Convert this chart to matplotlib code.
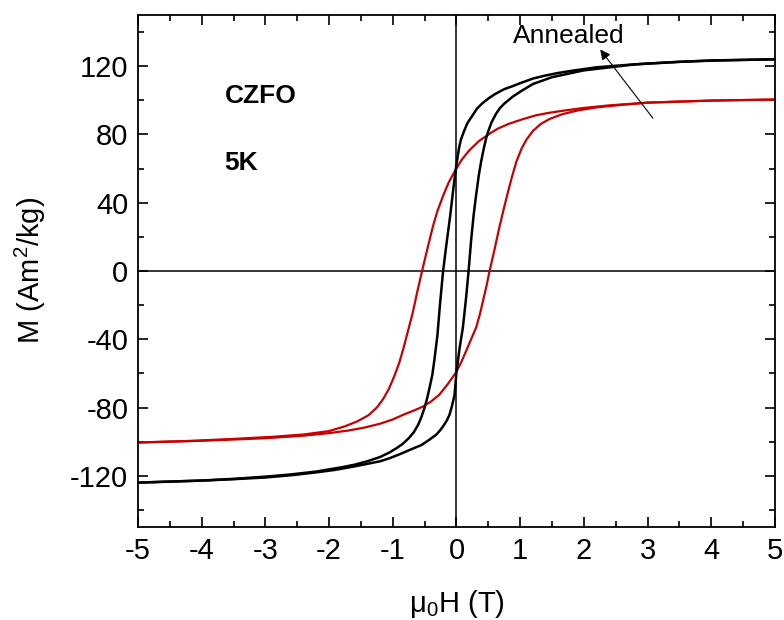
import matplotlib
matplotlib.use('Agg')
import matplotlib.pyplot as plt
from matplotlib.ticker import MultipleLocator

plt.rcParams['font.family'] = 'Liberation Sans'
plt.rcParams['mathtext.fontset'] = 'custom'
plt.rcParams['mathtext.rm'] = 'Liberation Sans'
plt.rcParams['mathtext.default'] = 'regular'
plt.rcParams['axes.unicode_minus'] = False

# as-prepared sample, field swept down then up
black_down_h = [5, 4, 3.5, 3, 2.6, 2.2, 1.8, 1.6, 1.4, 1.2, 1.0, 0.9, 0.75, 0.6, 0.5, 0.4, 0.32,
                0.25, 0.17, 0.12, 0.07, 0.04, -0.01, -0.05, -0.1, -0.16, -0.21, -0.26, -0.3,
                -0.35, -0.38, -0.42, -0.46, -0.5, -0.55, -0.6, -0.67, -0.75, -0.85, -0.95,
                -1.05, -1.2, -1.4, -1.6, -1.8, -2.2, -2.6, -3, -3.5, -4, -5]
black_down_m = [124, 123.2, 122.5, 121.5, 120.5, 119.3, 117.2, 116, 114.5, 112.7, 110, 108.5,
                106.5, 103.5, 101, 98, 95, 91, 86.5, 82, 77, 72, 60, 48, 32, 15, 0, -20, -38,
                -53, -61, -68, -74.5, -80, -85.5, -90, -94.5, -98, -101.5, -104,
                -106.3, -109, -111.5, -113.5, -115, -117.5, -119.2, -120.5, -121.8, -122.8, -124]
black_up_h = [-5, -4, -3.5, -3, -2.6, -2.2, -1.9, -1.6, -1.4, -1.2, -1.05, -0.9, -0.68, -0.55,
              -0.45, -0.32, -0.26, -0.2, -0.15, -0.11, -0.07, -0.03, 0.0, 0.05, 0.1, 0.15,
              0.19, 0.23, 0.27, 0.31, 0.35, 0.39, 0.43, 0.47, 0.51, 0.55, 0.62, 0.68, 0.75,
              0.88, 1.0, 1.2, 1.5, 2.0, 2.8, 3.5, 4, 5]
black_up_m = [-124, -122.8, -122, -121, -119.7, -118, -116.5, -114.5, -113, -111.5, -109.7,
              -107.5, -104, -102, -99.5, -96, -93.5, -90.5, -87.5, -84.3, -79, -72.5, -59,
              -45, -33.3, -16, 0, 18, 33, 45, 56, 64.7, 72, 78.4, 83, 87, 92, 95.3, 98,
              102, 105, 109.5, 113.5, 117.5, 121, 122.5, 123.3, 124]

# annealed sample
red_down_h = [5, 4, 3, 2.4, 2.0, 1.7, 1.45, 1.25, 1.05, 0.83, 0.65, 0.52, 0.35, 0.2, 0.08,
              -0.02, -0.12, -0.21, -0.3, -0.37, -0.45, -0.54, -0.62, -0.69, -0.76, -0.83,
              -0.9, -0.98, -1.06, -1.15, -1.25, -1.38, -1.55, -1.75, -2.0, -2.4, -2.9,
              -3.5, -4.2, -5]
red_down_m = [100.4, 99.8, 98.6, 97, 95.5, 94, 92.6, 91.2, 89, 86.3, 83.4, 80.4, 76, 70.6, 65,
              58.8, 52, 44, 35, 26, 14, 0, -13, -25, -35, -45,
              -54, -62, -69, -75, -80, -84.5, -88, -91, -93.8, -95.8, -97.2,
              -98.4, -99.6, -100.5]
red_up_h = [-5, -4, -3, -2.4, -2.0, -1.7, -1.45, -1.2, -1.0, -0.82, -0.65, -0.53, -0.4, -0.27,
            -0.14, 0.0, 0.08, 0.15, 0.23, 0.31, 0.37, 0.42, 0.47, 0.52, 0.6, 0.67, 0.74, 0.8,
            0.87, 0.94, 1.02, 1.1, 1.2, 1.32, 1.46, 1.66, 1.9, 2.2, 2.6, 3, 4, 5]
red_up_m = [-100.5, -99.5, -98, -96.5, -95, -93.5, -91.8, -89.5, -87, -84, -81.5, -79.5, -76.5,
            -72.5, -66.5, -59, -53, -47, -40, -33, -25, -17, -9, 0, 13, 25, 36, 45,
            55, 64, 71.5, 77, 82, 86, 89, 91.8, 94, 95.8, 97.3, 98.6, 99.8, 100.4]

fig = plt.figure(figsize=(7.84, 6.2), dpi=100)
ax = fig.add_axes([0.176, 0.15, 0.8125, 0.826])

ax.axhline(0, color='black', lw=1.1, zorder=1)
ax.axvline(0, color='black', lw=1.1, zorder=1)

ax.plot(black_down_h, black_down_m, color='black', lw=1.8, zorder=3)
ax.plot(black_up_h, black_up_m, color='black', lw=1.8, zorder=3)
ax.plot(red_down_h, red_down_m, color='#c80000', lw=1.6, zorder=2)
ax.plot(red_up_h, red_up_m, color='#c80000', lw=1.6, zorder=2)

ax.set_xlim(-5, 5)
ax.set_ylim(-150, 150)
ax.xaxis.set_major_locator(MultipleLocator(1))
ax.xaxis.set_minor_locator(MultipleLocator(0.5))
ax.yaxis.set_major_locator(MultipleLocator(40))
ax.yaxis.set_minor_locator(MultipleLocator(20))
ax.tick_params(which='both', direction='in', top=True, right=True, width=1.2,
               labelsize=21)
ax.tick_params(which='major', length=7, pad=7)
ax.tick_params(which='minor', length=4)
for s in ax.spines.values():
    s.set_linewidth(1.3)

ax.set_xlabel('\u03bc$_0$H (T)', fontsize=21, labelpad=17)
ax.set_ylabel('M (Am$^2$/kg)', fontsize=21, labelpad=16)

ax.text(-3.64, 102.5, 'CZFO', fontsize=19, fontweight='bold', va='center', ha='left')
ax.text(-3.64, 63.5, '5K', fontsize=19, fontweight='bold', va='center', ha='left')

ax.annotate('', xy=(2.23, 131), xytext=(3.11, 88.2),
            arrowprops=dict(arrowstyle='-|>', color='black', lw=0.8,
                            mutation_scale=15))
ax.text(1.77, 137.6, 'Annealed', fontsize=19, ha='center', va='center')

fig.savefig('out.png', dpi=100)
